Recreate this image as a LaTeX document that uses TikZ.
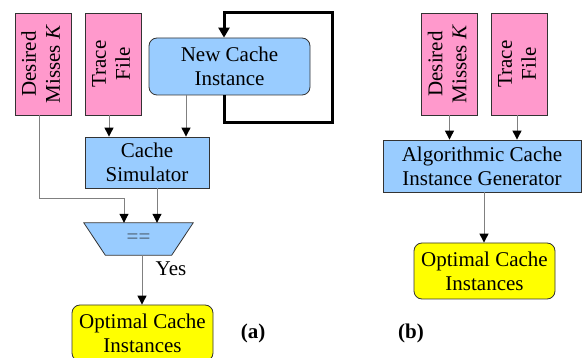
\documentclass[tikz,border=0pt]{standalone}
\usepackage{fontspec}
\setmainfont{Liberation Serif}
\newfontfamily\tms{Liberation Serif}
\usetikzlibrary{arrows.meta,calc}
\definecolor{pinkbox}{HTML}{FF99CC}
\definecolor{bluebox}{HTML}{99CCFF}
\definecolor{yelbox}{HTML}{FFFF00}
\definecolor{edgecol}{HTML}{333333}
\definecolor{conncol}{HTML}{808080}
\definecolor{eqtext}{HTML}{4A5A6A}
\begin{document}
\begin{tikzpicture}[x=1pt,y=-1pt,
  font=\tms\fontsize{21}{24}\selectfont,
  inbox/.style={draw=edgecol, fill=pinkbox, minimum width=56pt, minimum height=102pt, inner sep=0pt, line width=0.8pt},
  procbox/.style={draw=edgecol, fill=bluebox, inner sep=0pt, align=center, line width=0.8pt},
  roundbox/.style={procbox, rounded corners=8pt},
  outbox/.style={draw=edgecol, fill=yelbox, rounded corners=8pt, inner sep=0pt, align=center, minimum width=141pt, minimum height=56pt, line width=0.8pt},
  conn/.style={draw=conncol, line width=1pt, -{Triangle[length=9pt,width=9pt,color=black]}},
  loopline/.style={draw=black, line width=3pt, -{Triangle[length=10pt,width=11pt]}},
  tag/.style={font=\tms\fontsize{21}{24}\selectfont\bfseries},
]
\useasboundingbox (0,0) rectangle (582,358);

% ---------- (a) ----------
\node[inbox] (dmA) at (43,64) {\rotatebox{90}{\begin{tabular}{@{}c@{}}Desired\\Misses \textit{K}\end{tabular}}};
\node[inbox] (tfA) at (113,64) {\rotatebox{90}{\begin{tabular}{@{}c@{}}Trace\\File\end{tabular}}};
\node[roundbox, minimum width=161pt, minimum height=57pt] (nci) at (229.5,66.5) {New Cache\\Instance};
\node[procbox, minimum width=124pt, minimum height=51pt] (cs) at (147,162.5) {Cache\\Simulator};
\node[minimum width=109pt, minimum height=32pt, inner sep=0pt] (eq) at (138.5,239) {};
\fill[bluebox, draw=edgecol, line width=0.8pt] (eq.north west) -- (eq.north east) -- ([xshift=-21.5pt]eq.south east) -- ([xshift=21.5pt]eq.south west) -- cycle;
\node[text=eqtext, inner sep=0pt] (eqt) at (eq.center) {==};
\node[outbox] (optA) at (142.5,333) {Optimal Cache\\Instances};
\node[inner sep=0pt] (yes) at (171,269) {Yes};
\node[tag, inner sep=0pt] (tagA) at (253,333) {(a)};

\coordinate (lc) at (124,199);
\coordinate (lpA) at (224,123);
\coordinate (lpB) at (332,13);

\draw[conn] ([xshift=-4pt]tfA.south) -- ([xshift=-4pt]tfA.south |- cs.north);
\draw[conn] ([xshift=-43.5pt]nci.south) -- ([xshift=-43.5pt]nci.south |- cs.north);
\draw[conn] ([xshift=-4pt]dmA.south) |- (lc) -- (lc |- eq.north);
\draw[conn] ([xshift=10pt]cs.south) -- ([xshift=10pt]cs.south |- eq.north);
\draw[conn] ([xshift=3.5pt]eq.south) -- ([xshift=3.5pt]eq.south |- optA.north);
\draw[loopline] (lpA |- nci.south) -- (lpA) -| (lpB) -| (lpA |- nci.north);

% ---------- (b) ----------
\node[inbox] (dmB) at (449.5,64) {\rotatebox{90}{\begin{tabular}{@{}c@{}}Desired\\Misses \textit{K}\end{tabular}}};
\node[inbox] (tfB) at (519,64) {\rotatebox{90}{\begin{tabular}{@{}c@{}}Trace\\File\end{tabular}}};
\node[procbox, minimum width=198pt, minimum height=52pt] (acig) at (482,166) {Algorithmic Cache\\Instance Generator};
\node[outbox] (optB) at (484.5,271) {Optimal Cache\\Instances};
\node[tag, inner sep=0pt] (tagB) at (411,333) {(b)};

\draw[conn] (dmB.south) -- (dmB.south |- acig.north);
\draw[conn] ([xshift=-2pt]tfB.south) -- ([xshift=-2pt]tfB.south |- acig.north);
\draw[conn] ([xshift=2pt]acig.south) -- ([xshift=2pt]acig.south |- optB.north);
\end{tikzpicture}
\end{document}
